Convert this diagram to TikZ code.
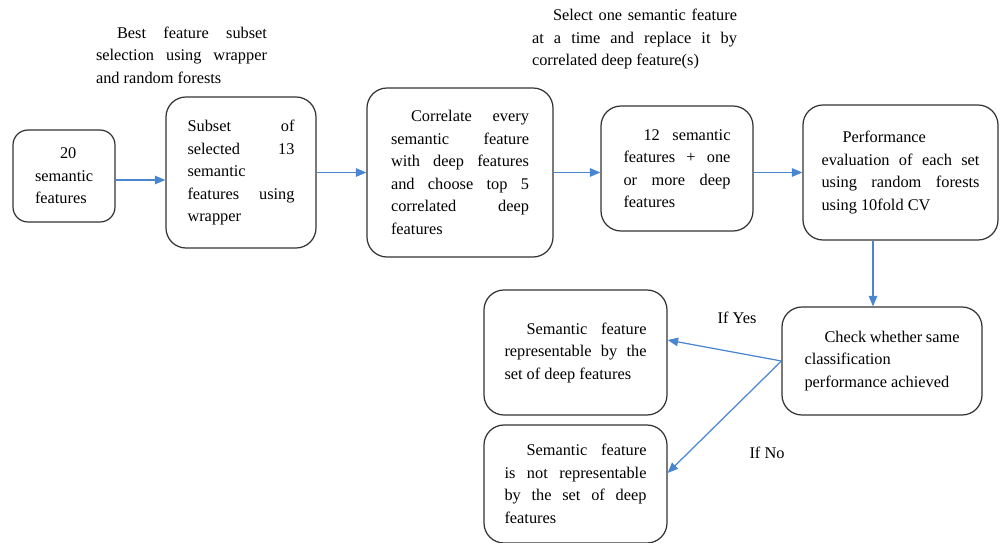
\documentclass[tikz,border=0pt]{standalone}
\usepackage{fontspec}
\setmainfont{Liberation Serif}
\usepackage{xcolor}
\usetikzlibrary{arrows.meta}
\definecolor{flowblue}{HTML}{4A86D0}
\definecolor{boxline}{HTML}{333333}

\tikzset{
  stage/.style={draw=boxline, line width=0.7pt, rounded corners=0.4cm, align=justify,
    inner sep=0pt, font=\fontsize{9.3}{12.8}\selectfont},
  note/.style={align=justify, inner sep=0pt, font=\fontsize{9.3}{12.8}\selectfont},
  flow/.style={draw=flowblue, line width=0.7pt, -{Triangle[length=2.1mm,width=1.7mm]}}
}

\begin{document}
\begin{tikzpicture}
\useasboundingbox (0,0) rectangle (20,10.84);
%
\node[stage, rounded corners=0.3cm, minimum width=2.04cm, minimum height=1.84cm, text width=1.16cm] (feat20) at (1.28, 7.32)
  {\hspace*{0.5cm}20\newline semantic\newline features};
\node[stage, minimum width=3cm, minimum height=3.02cm, text width=2.14cm] (subset) at (4.82, 7.39)
  {Subset of\linebreak selected 13\linebreak semantic\newline features using\linebreak wrapper};
\node[stage, minimum width=3.72cm, minimum height=3.38cm, text width=2.76cm] (correl) at (9.2, 7.39)
  {\hspace*{0.4cm}Correlate every\linebreak semantic feature\linebreak with deep features\linebreak and choose top 5\linebreak correlated deep\linebreak features};
\node[stage, minimum width=3.04cm, minimum height=2.5cm, text width=2.14cm] (replace) at (13.54, 7.47)
  {\hspace*{0.4cm}12 semantic\linebreak features + one\linebreak or more deep\linebreak features};
\node[stage, minimum width=3.9cm, minimum height=2.7cm, text width=3.16cm] (perf) at (18.01, 7.39)
  {\hspace*{0.42cm}Performance\newline evaluation of each set\linebreak using random forests\linebreak using 10fold CV};
%
\node[stage, minimum width=4cm, minimum height=2.16cm, text width=3.1cm] (check) at (17.64, 3.62)
  {\hspace*{0.4cm}Check whether same\newline classification\newline performance achieved};
\node[stage, minimum width=3.66cm, minimum height=2.5cm, text width=2.84cm] (repyes) at (11.51, 3.79)
  {\hspace*{0.44cm}Semantic feature\linebreak representable by the\linebreak set of deep features};
\node[stage, minimum width=3.66cm, minimum height=2.36cm, text width=2.84cm] (repno) at (11.51, 1.16)
  {\hspace*{0.44cm}Semantic feature\linebreak is not representable\linebreak by the set of deep\linebreak features};
%
\node[note, text width=3.42cm] (selnote) at (3.63, 9.74)
  {\hspace*{0.42cm}Best feature subset\linebreak selection using wrapper\linebreak and random forests};
\node[note, text width=4.1cm] (repnote) at (12.69, 10.06)
  {\hspace*{0.42cm}Select one semantic feature\linebreak at a time and replace it by\linebreak correlated deep feature(s)};
\node[note] (ifyes) at (14.74, 4.48) {If Yes};
\node[note] (ifno) at (15.34, 1.78) {If No};
%
\draw[flow] ([yshift=-0.08cm]feat20.east) -- ([yshift=-0.08cm]feat20.east -| subset.west);
\draw[flow] (subset.east) -- (subset.east -| correl.west);
\draw[flow] (correl.east) -- (correl.east -| replace.west);
\draw[flow] (perf.west -| replace.east) -- (perf.west);
\draw[flow] ([xshift=-0.18cm]check.north |- perf.south) -- ([xshift=-0.18cm]check.north);
\draw[flow] (check.west) -- ([yshift=0.25cm]repyes.east);
\draw[flow] (check.west) -- ([yshift=0.22cm]repno.east);
\end{tikzpicture}
\end{document}
